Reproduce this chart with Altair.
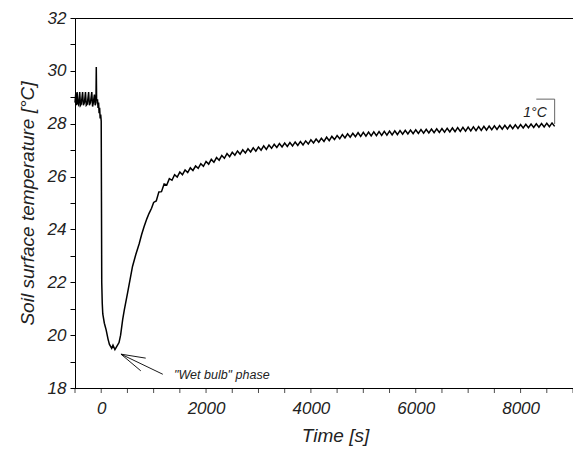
import altair as alt
import pandas as pd

# ---- data ----
pre_t = [-500, -485, -475, -460, -445, -430, -410, -395, -380, -355, -340, -320, -300, -285,
         -265, -240, -225, -205, -180, -165, -150, -130, -115, -100, -94, -88, -70, -60, -50,
         -40, -30, -20, -10, 0, 10, 20, 30, 60, 94, 130, 157, 200, 225, 262, 300, 340, 370,
         410, 440, 503, 550, 597, 660, 723, 770, 817, 870, 911, 960]
pre_T = [28.8, 29.15, 28.7, 29.2, 28.75, 28.7, 29.2, 28.7, 28.75, 29.2, 28.7, 28.8, 29.2, 28.7,
         28.75, 29.2, 28.7, 28.8, 29.2, 28.65, 28.8, 29.1, 28.7, 28.8, 30.15, 28.9, 28.9, 28.6, 28.8,
         28.4, 28.6, 28.2, 28.35, 28.1, 22.0, 21.2, 20.8, 20.45, 20.2, 19.85, 19.65, 19.5, 19.62,
         19.45, 19.58, 19.72, 20.0, 20.6, 20.95, 21.6, 22.1, 22.6, 23.05, 23.45, 23.8, 24.1, 24.4,
         24.6, 24.8]

# recovery phase, sampled every 50 s from 1000 s to 8650 s
rec_t = list(range(1000, 8651, 50))
rec_T = [25.02, 25.08, 25.42, 25.43, 25.72, 25.68, 25.92, 25.86, 26.07, 25.98,
         26.17, 26.07, 26.25, 26.15, 26.33, 26.23, 26.40, 26.31, 26.49, 26.39,
         26.57, 26.47, 26.65, 26.54, 26.72, 26.62, 26.80, 26.69, 26.87, 26.75,
         26.92, 26.81, 26.97, 26.85, 27.01, 26.89, 27.05, 26.93, 27.09, 26.96,
         27.12, 27.00, 27.16, 27.03, 27.19, 27.07, 27.22, 27.10, 27.25, 27.12,
         27.27, 27.14, 27.29, 27.16, 27.31, 27.18, 27.33, 27.20, 27.35, 27.23,
         27.39, 27.27, 27.42, 27.30, 27.45, 27.33, 27.49, 27.36, 27.52, 27.40,
         27.55, 27.43, 27.59, 27.46, 27.62, 27.49, 27.64, 27.51, 27.66, 27.52,
         27.67, 27.53, 27.68, 27.54, 27.69, 27.55, 27.70, 27.56, 27.71, 27.57,
         27.72, 27.58, 27.73, 27.59, 27.74, 27.60, 27.75, 27.61, 27.76, 27.62,
         27.77, 27.63, 27.78, 27.64, 27.79, 27.65, 27.80, 27.66, 27.81, 27.67,
         27.82, 27.68, 27.83, 27.69, 27.84, 27.70, 27.85, 27.71, 27.86, 27.72,
         27.87, 27.73, 27.88, 27.74, 27.89, 27.75, 27.90, 27.76, 27.91, 27.77,
         27.92, 27.78, 27.93, 27.79, 27.94, 27.80, 27.95, 27.81, 27.96, 27.82,
         27.97, 27.84, 27.98, 27.85, 27.99, 27.86, 28.00, 27.87, 28.01, 27.88,
         28.02, 27.89, 28.03, 27.90]

x_labels = [0, 2000, 4000, 6000, 8000]
x_minor = list(range(-500, 9001, 500))
y_ticks = list(range(18, 33, 1))

# annotation arrow ("Wet bulb" phase) segments
arrow_x = [377, 377, 377]
arrow_y = [19.28, 19.28, 19.28]
arrow_x2 = [849, 755, 1175]
arrow_y2 = [19.13, 18.65, 18.52]
note_text = ['"Wet bulb" phase']
note_x = [1390]
note_y = [18.49]

# 1 °C scale bar
bar_x = [8650, 8300]
bar_y = [27.99, 28.93]
bar_x2 = [8650, 8650]
bar_y2 = [28.93, 28.93]
bar_label = ["1°C"]
bar_lx = [8500]
bar_ly = [28.42]

FONT = "Liberation Sans"

curve = pd.DataFrame({"t": pre_t + rec_t, "T": pre_T + rec_T})
curve["order"] = range(len(curve))
arrows = pd.DataFrame({"x": arrow_x, "y": arrow_y, "x2": arrow_x2, "y2": arrow_y2})
note = pd.DataFrame({"x": note_x, "y": note_y, "label": note_text})
bars = pd.DataFrame({"x": bar_x, "y": bar_y, "x2": bar_x2, "y2": bar_y2})
barlab = pd.DataFrame({"x": bar_lx, "y": bar_ly, "label": bar_label})
minor = pd.DataFrame({"t": x_minor, "T": [18] * len(x_minor)})

xscale = alt.Scale(domain=[-500, 9000], nice=False, zero=False)
yscale = alt.Scale(domain=[18, 32], nice=False, zero=False)

xaxis = alt.Axis(
    values=x_labels,
    format="d",
    labelOverlap=False,
    labelFlush=False,
    title="Time [s]",
    grid=False,
    ticks=False,
    labelPadding=12,
    titlePadding=10,
    titleX=260,
)
yaxis = alt.Axis(
    values=y_ticks,
    labelExpr="datum.value % 2 == 0 ? datum.label : ''",
    labelOverlap=False,
    labelFlush=False,
    title="Soil surface temperature [°C]",
    grid=False,
    tickSize=5,
    labelPadding=4,
    titlePadding=10,
)

X = alt.X("t:Q", scale=xscale, axis=xaxis)
Y = alt.Y("T:Q", scale=yscale, axis=yaxis)

line = alt.Chart(curve).mark_line(color="black", strokeWidth=1.5).encode(
    x=X, y=Y, order="order:Q",
)

# tick marks below the x axis, every 500 s
xticks = alt.Chart(minor).mark_tick(
    color="black", thickness=1, size=5, yOffset=2.5, orient="vertical", clip=False
).encode(x=X, y=Y)

arrow = alt.Chart(arrows).mark_rule(color="black", strokeWidth=0.9).encode(
    x=alt.X("x:Q", axis=xaxis), y=alt.Y("y:Q", axis=yaxis), x2="x2:Q", y2="y2:Q"
)

note_mark = alt.Chart(note).mark_text(
    align="left", baseline="middle", font=FONT, fontStyle="italic", fontSize=12.5, color="#222"
).encode(x=alt.X("x:Q", axis=xaxis), y=alt.Y("y:Q", axis=yaxis), text="label:N")

bar = alt.Chart(bars).mark_rule(color="#555", strokeWidth=0.9).encode(
    x=alt.X("x:Q", axis=xaxis), y=alt.Y("y:Q", axis=yaxis), x2="x2:Q", y2="y2:Q"
)

bar_text = alt.Chart(barlab).mark_text(
    align="right", baseline="middle", font=FONT, fontStyle="italic", fontSize=14, color="#222"
).encode(x=alt.X("x:Q", axis=xaxis), y=alt.Y("y:Q", axis=yaxis), text="label:N")

chart = alt.layer(line, xticks, arrow, note_mark, bar, bar_text).properties(
    width=498,
    height=370,
    autosize=alt.AutoSizeParams(type="none"),
    padding={"left": 67, "top": 10, "right": 0, "bottom": 60},
).configure_view(
    stroke="black", strokeWidth=1
).configure_axis(
    domainColor="black",
    tickColor="black",
    labelFont=FONT,
    titleFont=FONT,
    labelFontStyle="italic",
    titleFontStyle="italic",
    labelFontSize=17,
    titleFontSize=19,
    labelColor="#222",
    titleColor="#222",
    titleFontWeight="normal",
)

chart.save("out.html", embed_options={"renderer": "svg", "actions": False})
